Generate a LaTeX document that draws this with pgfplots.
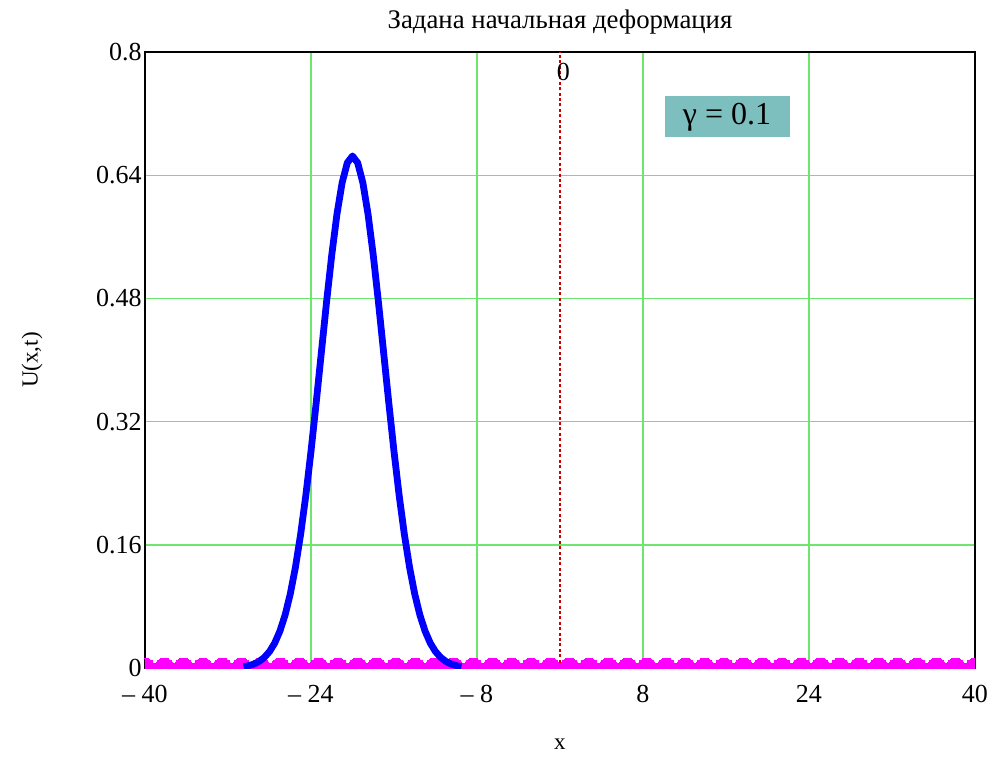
\documentclass[border=0pt]{standalone}
\usepackage{fontspec}
\setmainfont{Liberation Serif}
\usepackage{pgfplots}
\pgfplotsset{compat=1.18}
\definecolor{gridgreen}{RGB}{110,230,110}
\definecolor{boxteal}{RGB}{125,190,190}
\definecolor{mag}{RGB}{255,0,255}
\definecolor{darkred}{RGB}{200,0,0}
\begin{document}
\begin{tikzpicture}
\useasboundingbox (-72.5pt,-44pt) rectangle (426pt,334pt);
\begin{axis}[
  at={(0,0)}, anchor=south west,
  scale only axis, width=415pt, height=308pt,
  xmin=-40, xmax=40, ymin=0, ymax=0.8,
  clip marker paths=true,
  xtick={-40,-24,-8,8,24,40},
  xticklabels={{– 40},{– 24},{– 8},8,24,40},
  ytick={0,0.16,0.32,0.48,0.64,0.8},
  yticklabels={0,0.16,0.32,0.48,0.64,0.8},
  grid=major,
  major grid style={gridgreen, line width=0.7pt},
  major tick length=0pt,
  axis line style={black, line width=0.8pt},
  ticklabel style={font=\fontsize{13}{15}\selectfont},
  xticklabel style={yshift=-5pt},
  yticklabel style={inner sep=1.5pt},
  title={Задана начальная деформация},
  title style={at={(axis description cs:0.5,1.049)}, anchor=center, yshift=-6pt, font=\fontsize{13.4}{15}\selectfont},
  xlabel={x},
  xlabel style={at={(axis description cs:0.5,-0.123)}, anchor=center, font=\fontsize{11.5}{13}\selectfont},
  ylabel={U(x,t)},
  ylabel style={at={(axis description cs:-0.136,0.5)}, anchor=center, font=\fontsize{11.5}{13}\selectfont},
]
\addplot[darkred, line width=0.6pt, dash pattern=on 1.5pt off 1.2pt] coordinates {(0,0) (0,0.8)};
\addplot[mag, line width=5pt, mark=*, mark size=5pt, mark options={solid, fill=mag, draw=mag, line width=0pt}] coordinates {
(-40,0) (-38.140,0) (-36.279,0) (-34.419,0) (-32.558,0) (-30.698,0) (-28.837,0) (-26.977,0)
(-25.116,0) (-23.256,0) (-21.395,0) (-19.535,0) (-17.674,0) (-15.814,0) (-13.953,0) (-12.093,0)
(-10.233,0) (-8.372,0) (-6.512,0) (-4.651,0) (-2.791,0) (-0.930,0) (0.930,0) (2.791,0)
(4.651,0) (6.512,0) (8.372,0) (10.233,0) (12.093,0) (13.953,0) (15.814,0) (17.674,0)
(19.535,0) (21.395,0) (23.256,0) (25.116,0) (26.977,0) (28.837,0) (30.698,0) (32.558,0)
(34.419,0) (36.279,0) (38.140,0) (40,0)};
\addplot[blue, line width=3.4pt, line join=round] coordinates {
(-30.5,0.0017) (-30,0.0031) (-29.5,0.0052) (-29,0.0086) (-28.5,0.0137) (-28,0.0213)
(-27.5,0.0323) (-27,0.0478) (-26.5,0.0686) (-26,0.0960) (-25.5,0.1308) (-25,0.1735) (-24.5,0.2239)
(-24,0.2814) (-23.5,0.3443) (-23,0.4099) (-22.5,0.4753) (-22,0.5363) (-21.5,0.5892) (-21,0.6302)
(-20.5,0.6561) (-20,0.6650) (-19.5,0.6561) (-19,0.6302) (-18.5,0.5892) (-18,0.5363) (-17.5,0.4753)
(-17,0.4099) (-16.5,0.3443) (-16,0.2814) (-15.5,0.2239) (-15,0.1735) (-14.5,0.1308) (-14,0.0960)
(-13.5,0.0686) (-13,0.0478) (-12.5,0.0323) (-12,0.0213) (-11.5,0.0137) (-11,0.0086) (-10.5,0.0052)
(-10,0.0031) (-9.5,0.0017)};
\node[anchor=north, inner sep=1pt, xshift=1.75pt, yshift=-4.5pt, font=\fontsize{13}{15}\selectfont] at (axis cs:0,0.8) {0};
\node[fill=boxteal, minimum width=62.5pt, minimum height=20.5pt, inner sep=1pt, font=\fontsize{16}{18}\selectfont] at (axis cs:16.1,0.7156) {γ\hspace{4pt}=\hspace{4pt}0.1};
\end{axis}
\end{tikzpicture}
\end{document}
